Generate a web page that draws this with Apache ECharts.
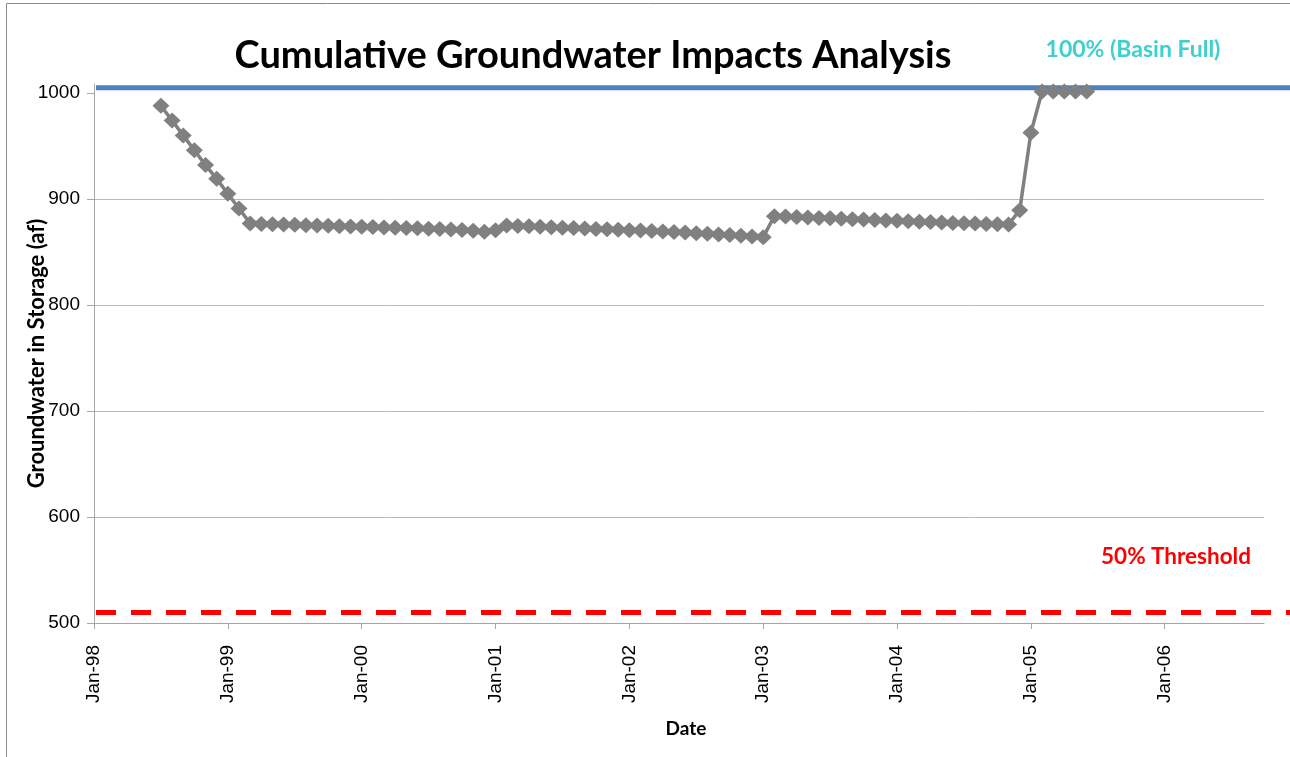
<!DOCTYPE html>
<html>
<head>
<meta charset="utf-8">
<title>Cumulative Groundwater Impacts Analysis</title>
<script src="https://cdn.jsdelivr.net/npm/echarts@6/dist/echarts.min.js"></script>
<style>
  html, body { margin: 0; padding: 0; background: #ffffff; }
  #chart { width: 1290px; height: 757px; }
</style>
</head>
<body>
<div id="chart"></div>
<script>
// Monthly groundwater in storage (acre-feet), Jul 1998 - Jun 2005
const months = [
  '1998-07','1998-08','1998-09','1998-10','1998-11','1998-12',
  '1999-01','1999-02','1999-03','1999-04','1999-05','1999-06','1999-07','1999-08','1999-09','1999-10','1999-11','1999-12',
  '2000-01','2000-02','2000-03','2000-04','2000-05','2000-06','2000-07','2000-08','2000-09','2000-10','2000-11','2000-12',
  '2001-01','2001-02','2001-03','2001-04','2001-05','2001-06','2001-07','2001-08','2001-09','2001-10','2001-11','2001-12',
  '2002-01','2002-02','2002-03','2002-04','2002-05','2002-06','2002-07','2002-08','2002-09','2002-10','2002-11','2002-12',
  '2003-01','2003-02','2003-03','2003-04','2003-05','2003-06','2003-07','2003-08','2003-09','2003-10','2003-11','2003-12',
  '2004-01','2004-02','2004-03','2004-04','2004-05','2004-06','2004-07','2004-08','2004-09','2004-10','2004-11','2004-12',
  '2005-01','2005-02','2005-03','2005-04','2005-05','2005-06'
];
const storage = [
  988, 974, 960, 946, 932, 919,
  905, 891, 877, 876.5, 876.2, 875.9, 875.6, 875.3, 875.0, 874.7, 874.4, 874.1,
  873.8, 873.5, 873.2, 872.9, 872.6, 872.3, 872.0, 871.6, 871.2, 870.7, 870.0, 869.0,
  870.5, 875.0, 874.6, 874.2, 873.8, 873.4, 873.0, 872.6, 872.2, 871.8, 871.4, 871.0,
  870.6, 870.2, 869.8, 869.3, 868.8, 868.3, 867.8, 867.2, 866.6, 866.0, 865.3, 864.6,
  864.0, 883.8, 883.4, 883.0, 882.6, 882.2, 881.8, 881.4, 881.0, 880.6, 880.2, 879.8,
  879.4, 879.0, 878.6, 878.2, 877.8, 877.4, 877.1, 876.8, 876.5, 876.2, 875.9, 889.5,
  962.5, 1001.5, 1001.5, 1001.5, 1001.5, 1001.5
];

// Reference levels (af)
const basinFull = 1005;
const threshold = 510;

// Axis ticks
const yTicks = [500, 600, 700, 800, 900, 1000];
const xTickYears = [1998, 1999, 2000, 2001, 2002, 2003, 2004, 2005, 2006];

// Date axis is measured in months after Jan 1998
const START_YEAR = 1998;
function monthIndex(s) {
  const [y, m] = s.split('-').map(Number);
  return (y - START_YEAR) * 12 + (m - 1);
}
const xTicks = xTickYears.map(y => (y - START_YEAR) * 12);
const seriesData = months.map((m, i) => [monthIndex(m), storage[i]]);

const AXIS_GREY = '#a6a6a6';
const GRID_GREY = '#b9b9b9';
const boldFont = 'Lato, "Open Sans", sans-serif';

const chart = echarts.init(document.getElementById('chart'), null, { renderer: 'canvas' });

chart.setOption({
  animation: false,
  backgroundColor: '#ffffff',
  title: {
    text: 'Cumulative Groundwater Impacts Analysis',
    left: 588,
    top: 32,
    textAlign: 'center',
    textStyle: { fontFamily: boldFont, fontWeight: 'bold', fontSize: 38, color: '#000000' }
  },
  grid: [
    { left: 94, right: 26, top: 84, bottom: 134, outerBoundsMode: 'none', containLabel: false },
    { left: 96, right: 0, top: 84, bottom: 134, outerBoundsMode: 'none', containLabel: false }
  ],
  xAxis: [
    {
      type: 'value',
      gridIndex: 0,
      min: 0,
      max: 104.9,
      interval: 12,
      name: 'Date',
      nameLocation: 'middle',
      nameGap: 96,
      nameMoveOverlap: false,
      nameTextStyle: { fontFamily: boldFont, fontWeight: 'bold', fontSize: 19, color: '#000000', padding: [0, 0, 0, 14] },
      axisLine: { show: true, lineStyle: { color: AXIS_GREY, width: 1 } },
      axisTick: { show: true, inside: false, length: 6, customValues: xTicks, lineStyle: { color: AXIS_GREY } },
      axisLabel: {
        customValues: xTicks,
        rotate: 90,
        margin: 22,
        fontFamily: '"Liberation Sans", Arial, sans-serif',
        fontSize: 19,
        color: '#000000',
        formatter: v => 'Jan-' + String((START_YEAR + Math.round(v / 12)) % 100).padStart(2, '0')
      },
      splitLine: { show: false }
    },
    { type: 'value', gridIndex: 1, min: 0, max: 1, show: false }
  ],
  yAxis: [
    {
      type: 'value',
      gridIndex: 0,
      min: 500,
      max: 1008.5,
      interval: 100,
      name: 'Groundwater in Storage (af)',
      nameLocation: 'middle',
      nameGap: 46,
      nameMoveOverlap: false,
      nameTextStyle: { fontFamily: boldFont, fontWeight: 'bold', fontSize: 22, color: '#000000' },
      axisLine: { show: true, lineStyle: { color: AXIS_GREY, width: 1 } },
      axisTick: { show: true, inside: false, length: 7, customValues: yTicks, lineStyle: { color: AXIS_GREY } },
      axisLabel: {
        customValues: yTicks,
        margin: 14,
        fontFamily: '"Liberation Sans", Arial, sans-serif',
        fontSize: 19,
        color: '#000000',
        formatter: v => String(v)
      },
      splitLine: { show: true, showMaxLine: false, lineStyle: { color: GRID_GREY, width: 1 } }
    },
    { type: 'value', gridIndex: 1, min: 500, max: 1008.5, show: false }
  ],
  series: [
    {
      name: 'Basin Full',
      type: 'line',
      xAxisIndex: 1,
      yAxisIndex: 1,
      data: [[0, basinFull], [1, basinFull]],
      symbol: 'none',
      silent: true,
      z: 1,
      lineStyle: { color: '#4f81bd', width: 5 }
    },
    {
      name: '50% Threshold',
      type: 'line',
      xAxisIndex: 1,
      yAxisIndex: 1,
      data: [[0, threshold], [1, threshold]],
      symbol: 'none',
      silent: true,
      z: 1,
      lineStyle: { color: '#ff0000', width: 5, type: [20, 15], cap: 'butt' }
    },
    {
      name: 'Groundwater in Storage',
      type: 'line',
      xAxisIndex: 0,
      yAxisIndex: 0,
      data: seriesData,
      symbol: 'diamond',
      symbolSize: [17, 16],
      showAllSymbol: true,
      clip: false,
      z: 3,
      lineStyle: { color: '#808080', width: 3.5 },
      itemStyle: { color: '#808080', borderWidth: 0 }
    }
  ],
  graphic: [
    {
      type: 'rect',
      silent: true,
      z: 100,
      shape: { x: 6.5, y: 3.5, width: 1400, height: 900 },
      style: { fill: 'none', stroke: '#8c8c8c', lineWidth: 1 }
    },
    {
      type: 'text',
      x: 1133,
      y: 50,
      style: {
        text: '100% (Basin Full)',
        fill: '#3fcfcf',
        font: 'bold 23px Lato, "Open Sans", sans-serif',
        textAlign: 'center',
        textVerticalAlign: 'middle'
      }
    },
    {
      type: 'text',
      x: 1176,
      y: 557,
      style: {
        text: '50% Threshold',
        fill: '#ff0000',
        font: 'bold 22.5px Lato, "Open Sans", sans-serif',
        textAlign: 'center',
        textVerticalAlign: 'middle'
      }
    }
  ]
});
</script>
</body>
</html>
